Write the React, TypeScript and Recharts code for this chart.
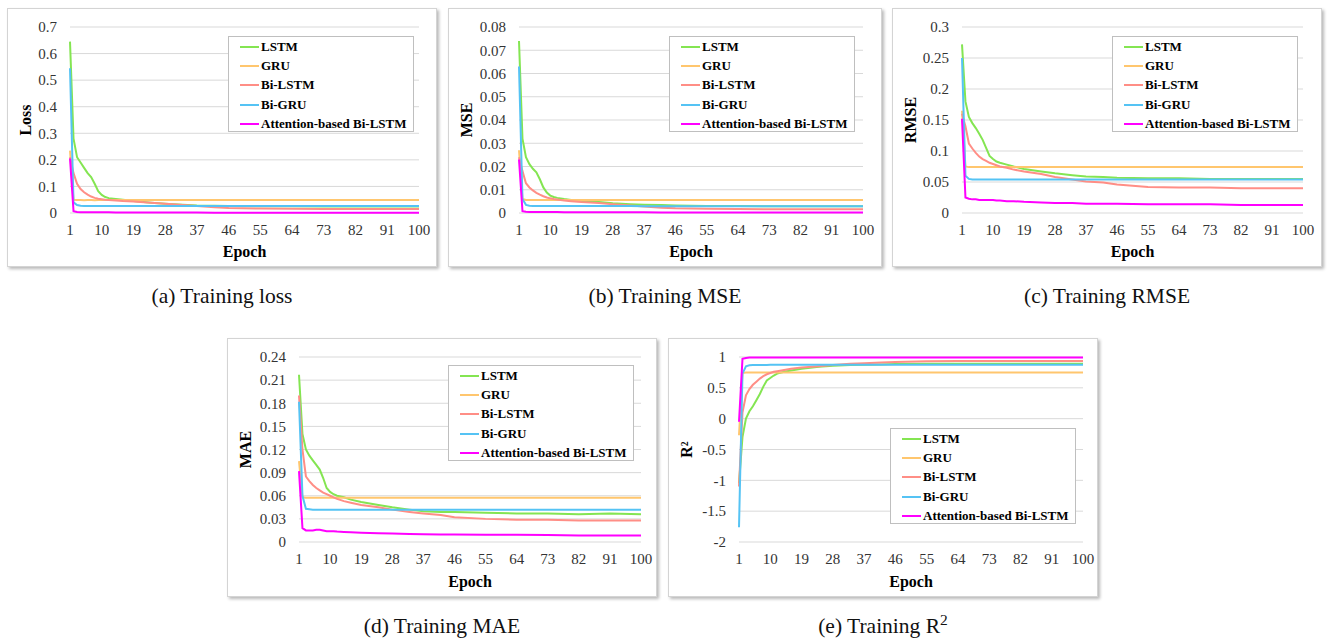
import { CartesianGrid, Legend, Line, LineChart, XAxis, YAxis } from 'recharts'

const epochs = [1, 2, 3, 4, 5, 6, 7, 8, 9, 10, 11, 12, 14, 16, 19, 24, 28, 33, 37, 42, 46, 55, 64, 73, 82, 91, 100]
const epochTicks = [1, 10, 19, 28, 37, 46, 55, 64, 73, 82, 91, 100]

const seriesNames = ['LSTM', 'GRU', 'Bi-LSTM', 'Bi-GRU', 'Attention-based Bi-LSTM']
const seriesColors = ['#84e552', '#ffc66e', '#ff8e86', '#55c3f4', '#ff00ff']

// (a) loss
const lossLstm = [
  0.645, 0.28, 0.21, 0.19, 0.17, 0.15, 0.135, 0.11, 0.082,
  0.068, 0.06, 0.056, 0.053, 0.05, 0.045, 0.039, 0.035, 0.031,
  0.028, 0.027, 0.026, 0.025, 0.025, 0.024, 0.024, 0.024, 0.024,
]
const lossGru = [
  0.235, 0.05, 0.049, 0.049, 0.048, 0.049, 0.049, 0.048, 0.049,
  0.049, 0.049, 0.049, 0.049, 0.049, 0.049, 0.049, 0.049, 0.049,
  0.049, 0.049, 0.049, 0.049, 0.049, 0.049, 0.049, 0.049, 0.049,
]
const lossBiLstm = [
  0.21, 0.15, 0.11, 0.09, 0.078, 0.069, 0.062, 0.057, 0.054,
  0.052, 0.05, 0.049, 0.047, 0.045, 0.043, 0.039, 0.035, 0.03,
  0.026, 0.022, 0.019, 0.017, 0.016, 0.015, 0.015, 0.015, 0.015,
]
const lossBiGru = [
  0.545, 0.04, 0.03, 0.027, 0.026, 0.026, 0.026, 0.026, 0.026,
  0.026, 0.026, 0.026, 0.026, 0.026, 0.026, 0.026, 0.026, 0.026,
  0.026, 0.026, 0.026, 0.026, 0.026, 0.026, 0.026, 0.026, 0.026,
]
const lossAttn = [
  0.205, 0.007, 0.004, 0.003, 0.003, 0.003, 0.003, 0.003, 0.003,
  0.003, 0.003, 0.003, 0.002, 0.002, 0.002, 0.002, 0.002, 0.002,
  0.002, 0.001, 0.001, 0.001, 0.001, 0.001, 0.001, 0.001, 0.001,
]

// (b) MSE
const mseLstm = [
  0.074, 0.032, 0.024, 0.021, 0.019, 0.0175, 0.0145, 0.011, 0.0088,
  0.0075, 0.0069, 0.0065, 0.006, 0.0056, 0.0052, 0.0047, 0.0042, 0.0038,
  0.0036, 0.0034, 0.0032, 0.003, 0.003, 0.0029, 0.0029, 0.0029, 0.0029,
]
const mseGru = [
  0.027, 0.006, 0.0056, 0.0056, 0.0056, 0.0056, 0.0056, 0.0056, 0.0056,
  0.0056, 0.0056, 0.0056, 0.0056, 0.0056, 0.0056, 0.0056, 0.0056, 0.0056,
  0.0056, 0.0056, 0.0056, 0.0056, 0.0056, 0.0056, 0.0056, 0.0056, 0.0056,
]
const mseBiLstm = [
  0.024, 0.018, 0.0128, 0.011, 0.0097, 0.0087, 0.0079, 0.0072, 0.0067,
  0.0063, 0.006, 0.0058, 0.0054, 0.0051, 0.0047, 0.0043, 0.0038, 0.0032,
  0.0028, 0.0023, 0.002, 0.0018, 0.0017, 0.0016, 0.0016, 0.0016, 0.0016,
]
const mseBiGru = [
  0.063, 0.006, 0.0035, 0.0031, 0.003, 0.003, 0.003, 0.003, 0.003,
  0.003, 0.003, 0.003, 0.003, 0.003, 0.003, 0.003, 0.003, 0.003,
  0.0029, 0.0029, 0.0029, 0.0029, 0.0029, 0.0029, 0.0029, 0.0029, 0.0029,
]
const mseAttn = [
  0.023, 0.0008, 0.0005, 0.0004, 0.0004, 0.0004, 0.0004, 0.0004, 0.0004,
  0.0004, 0.0004, 0.0004, 0.0003, 0.0003, 0.0003, 0.0003, 0.0003, 0.0003,
  0.0003, 0.0002, 0.0002, 0.0002, 0.0002, 0.0002, 0.0002, 0.0002, 0.0002,
]

// (c) RMSE
const rmseLstm = [
  0.272, 0.18, 0.155, 0.145, 0.137, 0.128, 0.118, 0.105, 0.092,
  0.087, 0.083, 0.081, 0.078, 0.075, 0.071, 0.067, 0.064, 0.061,
  0.059, 0.058, 0.057, 0.056, 0.056, 0.055, 0.055, 0.055, 0.055,
]
const rmseGru = [
  0.165, 0.075, 0.074, 0.074, 0.074, 0.074, 0.074, 0.074, 0.074,
  0.074, 0.074, 0.074, 0.074, 0.074, 0.074, 0.074, 0.074, 0.074,
  0.074, 0.074, 0.074, 0.074, 0.074, 0.074, 0.074, 0.074, 0.074,
]
const rmseBiLstm = [
  0.16, 0.14, 0.112, 0.104, 0.097, 0.091, 0.087, 0.084, 0.081,
  0.079, 0.077, 0.075, 0.073, 0.07, 0.067, 0.063, 0.058, 0.054,
  0.051, 0.049, 0.046, 0.042, 0.041, 0.041, 0.04, 0.04, 0.04,
]
const rmseBiGru = [
  0.25, 0.06, 0.055, 0.054, 0.054, 0.054, 0.054, 0.054, 0.054,
  0.054, 0.054, 0.054, 0.054, 0.054, 0.054, 0.054, 0.054, 0.054,
  0.054, 0.054, 0.054, 0.054, 0.054, 0.054, 0.054, 0.054, 0.054,
]
const rmseAttn = [
  0.152, 0.025, 0.023, 0.022, 0.022, 0.021, 0.021, 0.021, 0.021,
  0.021, 0.02, 0.02, 0.019, 0.019, 0.018, 0.017, 0.016, 0.016,
  0.015, 0.015, 0.015, 0.014, 0.014, 0.014, 0.013, 0.013, 0.013,
]

// (d) MAE
const maeLstm = [
  0.217, 0.14, 0.12, 0.112, 0.106, 0.1, 0.094, 0.083, 0.07,
  0.065, 0.062, 0.06, 0.058, 0.055, 0.052, 0.048, 0.045, 0.042,
  0.04, 0.039, 0.039, 0.038, 0.037, 0.037, 0.036, 0.037, 0.036,
]
const maeGru = [
  0.105, 0.058, 0.0575, 0.0575, 0.0575, 0.0575, 0.0575, 0.0575, 0.0575,
  0.0575, 0.0575, 0.0575, 0.0575, 0.0575, 0.0575, 0.0575, 0.0575, 0.0575,
  0.0575, 0.0575, 0.0575, 0.0575, 0.0575, 0.0575, 0.0575, 0.0575, 0.0575,
]
const maeBiLstm = [
  0.19, 0.12, 0.085, 0.079, 0.074, 0.07, 0.067, 0.064, 0.062,
  0.06, 0.058, 0.056, 0.053, 0.051, 0.048, 0.045, 0.042, 0.039,
  0.037, 0.035, 0.032, 0.03, 0.029, 0.029, 0.028, 0.028, 0.028,
]
const maeBiGru = [
  0.182, 0.06, 0.043, 0.0425, 0.042, 0.042, 0.042, 0.042, 0.042,
  0.042, 0.042, 0.042, 0.042, 0.042, 0.042, 0.042, 0.042, 0.042,
  0.042, 0.042, 0.042, 0.042, 0.042, 0.042, 0.042, 0.042, 0.042,
]
const maeAttn = [
  0.092, 0.018, 0.015, 0.015, 0.015, 0.016, 0.016, 0.015, 0.014,
  0.014, 0.014, 0.0135, 0.013, 0.0125, 0.012, 0.0115, 0.011, 0.0105,
  0.01, 0.0098, 0.0096, 0.0094, 0.0093, 0.009, 0.0085, 0.0085, 0.0085,
]

// (e) R2
const r2Lstm = [
  -1.05, -0.3, 0.0, 0.12, 0.2, 0.3, 0.4, 0.52, 0.62,
  0.66, 0.7, 0.73, 0.76, 0.78, 0.81, 0.84, 0.86, 0.87,
  0.875, 0.88, 0.885, 0.89, 0.89, 0.89, 0.89, 0.89, 0.89,
]
const r2Gru = [
  -0.27, 0.74, 0.75, 0.75, 0.75, 0.75, 0.75, 0.75, 0.75,
  0.75, 0.75, 0.75, 0.75, 0.75, 0.75, 0.75, 0.75, 0.75,
  0.75, 0.75, 0.75, 0.75, 0.75, 0.75, 0.75, 0.75, 0.75,
]
const r2BiLstm = [
  -1.1, 0.1, 0.38, 0.48, 0.55, 0.6, 0.65, 0.69, 0.72,
  0.74, 0.76, 0.77, 0.79, 0.81, 0.83, 0.85, 0.87, 0.89,
  0.9, 0.91, 0.92, 0.93, 0.935, 0.935, 0.935, 0.935, 0.935,
]
const r2BiGru = [
  -1.76, 0.73, 0.85, 0.865, 0.87, 0.87, 0.87, 0.87, 0.87,
  0.875, 0.875, 0.875, 0.875, 0.875, 0.875, 0.875, 0.875, 0.875,
  0.875, 0.875, 0.875, 0.875, 0.875, 0.875, 0.875, 0.875, 0.875,
]
const r2Attn = [
  -0.05, 0.97, 0.985, 0.99, 0.99, 0.99, 0.99, 0.99, 0.99,
  0.99, 0.99, 0.99, 0.99, 0.99, 0.99, 0.99, 0.99, 0.99,
  0.99, 0.99, 0.99, 0.99, 0.99, 0.99, 0.99, 0.99, 0.99,
]

const lossTicks = [0, 0.1, 0.2, 0.3, 0.4, 0.5, 0.6, 0.7]
const mseTicks = [0, 0.01, 0.02, 0.03, 0.04, 0.05, 0.06, 0.07, 0.08]
const rmseTicks = [0, 0.05, 0.1, 0.15, 0.2, 0.25, 0.3]
const maeTicks = [0, 0.03, 0.06, 0.09, 0.12, 0.15, 0.18, 0.21, 0.24]
const r2Ticks = [-2, -1.5, -1, -0.5, 0, 0.5, 1]

const FONT = '"Liberation Serif", "Times New Roman", serif'

const buildRows = (series: number[][]) =>
  epochs.map((epoch, i) => {
    const row: Record<string, number> = { epoch }
    series.forEach((s, k) => {
      row[`s${k}`] = s[i]
    })
    return row
  })

function LegendBox({ payload }: { payload?: { value: string; color: string }[] }) {
  // keep the legend in series order (LSTM first)
  const items = [...(payload ?? [])].sort(
    (a, b) => seriesNames.indexOf(a.value) - seriesNames.indexOf(b.value),
  )
  return (
    <div
      style={{
        width: 186,
        height: 96,
        boxSizing: 'border-box',
        border: '1px solid #bfbfbf',
        background: '#fff',
        fontFamily: FONT,
      }}
    >
      {items.map((p) => (
        <div key={p.value} style={{ height: 19.4, display: 'flex', alignItems: 'center' }}>
          <svg width={19} height={4} style={{ marginLeft: 11 }}>
            <line x1={0} y1={2} x2={19} y2={2} stroke={p.color} strokeWidth={2} />
          </svg>
          <span style={{ marginLeft: 2, fontSize: 13, fontWeight: 'bold', color: '#000', whiteSpace: 'nowrap' }}>
            {p.value}
          </span>
        </div>
      ))}
    </div>
  )
}

type PanelProps = {
  left: number
  top: number
  width: number
  height: number
  plotLeft: number
  plotRight: number
  plotTop: number
  plotBottom: number
  domain: [number, number]
  ticks: number[]
  title: string
  series: number[][]
  legendLeft: number
  legendTop: number
}

function MetricPanel(p: PanelProps) {
  const rows = buildRows(p.series)
  return (
    <div style={{ position: 'absolute', left: p.left, top: p.top, width: p.width, height: p.height }}>
      <div
        style={{
          position: 'absolute',
          inset: 0,
          border: '1px solid #d4d4d4',
          boxShadow: '2px 2px 3px rgba(0,0,0,0.28)',
          background: '#fff',
        }}
      />
      <LineChart
        width={p.width}
        height={p.height}
        data={rows}
        margin={{ top: p.plotTop, right: p.width - p.plotRight, left: 0, bottom: 0 }}
        style={{ position: 'absolute', left: 0, top: 0 }}
      >
        <CartesianGrid horizontal vertical={false} stroke="#d9d9d9" strokeWidth={1} />
        <XAxis
          dataKey="epoch"
          type="number"
          domain={[1, 100]}
          ticks={epochTicks}
          interval={0}
          height={p.height - p.plotBottom}
          axisLine={false}
          tickLine={false}
          tickSize={0}
          tickMargin={11}
          tick={{ fontSize: 15, fill: '#333', fontFamily: FONT }}
          label={{
            value: 'Epoch',
            position: 'insideBottom',
            offset: 10,
            style: { fontSize: 16, fontWeight: 'bold', fill: '#000', fontFamily: FONT },
          }}
        />
        <YAxis
          type="number"
          domain={p.domain}
          ticks={p.ticks}
          interval={0}
          width={p.plotLeft}
          axisLine={false}
          tickLine={false}
          tickSize={0}
          tickMargin={13}
          tick={{ fontSize: 15, fill: '#333', fontFamily: FONT }}
          label={{
            value: p.title,
            angle: -90,
            position: 'insideLeft',
            offset: 18,
            style: { fontSize: 16, fontWeight: 'bold', fill: '#000', fontFamily: FONT, textAnchor: 'middle' },
          }}
        />
        <Legend
          layout="vertical"
          align="center"
          verticalAlign="middle"
          wrapperStyle={{ left: p.legendLeft, top: p.legendTop }}
          content={(props: any) => <LegendBox payload={props.payload} />}
        />
        {seriesNames.map((name, k) => (
          <Line
            key={name}
            type="linear"
            dataKey={`s${k}`}
            name={name}
            stroke={seriesColors[k]}
            strokeWidth={2}
            dot={false}
            activeDot={false}
            isAnimationActive={false}
          />
        ))}
      </LineChart>
    </div>
  )
}

function Caption({ left, top, width, children }: { left: number; top: number; width: number; children: any }) {
  return (
    <div
      style={{
        position: 'absolute',
        left,
        top,
        width,
        height: 25,
        lineHeight: '25px',
        textAlign: 'center',
        fontFamily: FONT,
        fontSize: 21.5,
        color: '#111',
      }}
    >
      {children}
    </div>
  )
}

export default function App() {
  return (
    <div style={{ position: 'absolute', left: 0, top: 0, width: 1327, height: 640, background: '#fff', fontFamily: FONT }}>
      <MetricPanel
        left={7} top={8} width={430} height={259}
        plotLeft={63} plotRight={412} plotTop={19} plotBottom={205}
        domain={[0, 0.7]} ticks={lossTicks} title="Loss"
        series={[lossLstm, lossGru, lossBiLstm, lossBiGru, lossAttn]}
        legendLeft={221} legendTop={28}
      />
      <MetricPanel
        left={448} top={8} width={434} height={259}
        plotLeft={71} plotRight={415} plotTop={19} plotBottom={205}
        domain={[0, 0.08]} ticks={mseTicks} title="MSE"
        series={[mseLstm, mseGru, mseBiLstm, mseBiGru, mseAttn]}
        legendLeft={221} legendTop={28}
      />
      <MetricPanel
        left={892} top={8} width={430} height={259}
        plotLeft={70} plotRight={411} plotTop={19} plotBottom={205}
        domain={[0, 0.3]} ticks={rmseTicks} title="RMSE"
        series={[rmseLstm, rmseGru, rmseBiLstm, rmseBiGru, rmseAttn]}
        legendLeft={220} legendTop={28}
      />
      <MetricPanel
        left={227} top={338} width={430} height={259}
        plotLeft={72} plotRight={414} plotTop={19} plotBottom={204}
        domain={[0, 0.24]} ticks={maeTicks} title="MAE"
        series={[maeLstm, maeGru, maeBiLstm, maeBiGru, maeAttn]}
        legendLeft={221} legendTop={27}
      />
      <MetricPanel
        left={668} top={338} width={430} height={259}
        plotLeft={71} plotRight={415} plotTop={19} plotBottom={204}
        domain={[-2, 1]} ticks={r2Ticks} title="R²"
        series={[r2Lstm, r2Gru, r2BiLstm, r2BiGru, r2Attn]}
        legendLeft={222} legendTop={90}
      />
      <Caption left={7} top={284} width={430}>(a) Training loss</Caption>
      <Caption left={448} top={284} width={434}>(b) Training MSE</Caption>
      <Caption left={892} top={284} width={430}>(c) Training RMSE</Caption>
      <Caption left={227} top={614} width={430}>(d) Training MAE</Caption>
      <Caption left={668} top={614} width={430}>
        (e) Training R<sup style={{ fontSize: '0.72em', lineHeight: 0 }}>2</sup>
      </Caption>
    </div>
  )
}
